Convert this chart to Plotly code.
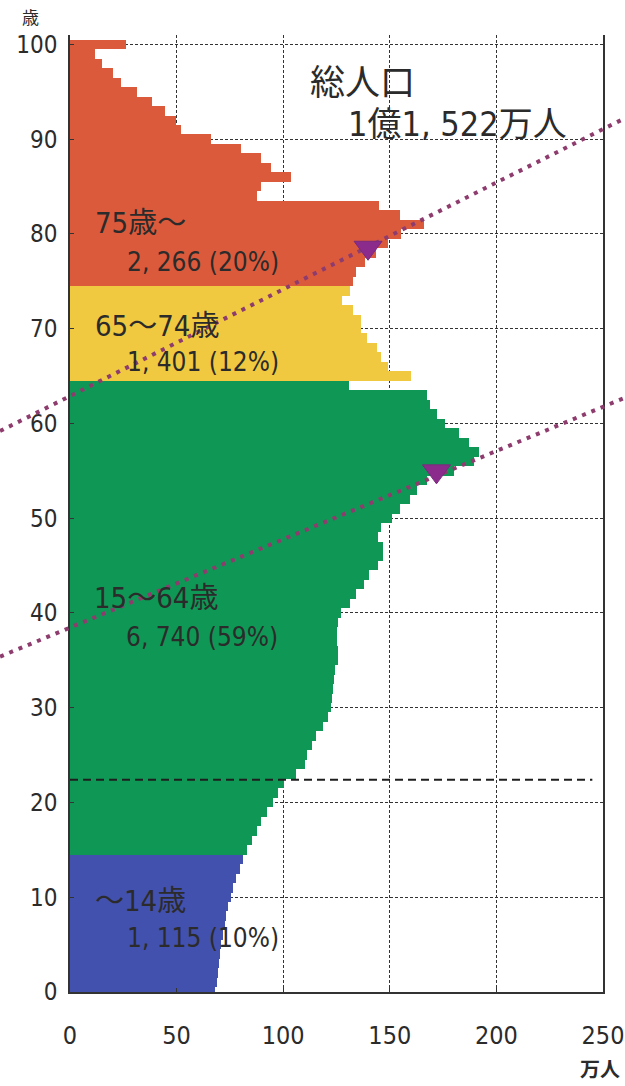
import plotly.graph_objects as go

# ---------------- data (万人, by single year of age) ----------------
ages_0_14 = list(range(0, 15))
pop_0_14 = [68.2, 69.0, 69.4, 69.9, 70.5, 71.0, 71.8, 72.5, 73.3, 74.1,
            75.4, 76.5, 78.0, 79.6, 81.2]

ages_15_64 = list(range(15, 65))
pop_15_64 = [82.9, 85.3, 87.6, 89.5, 92.2, 95.3, 97.5, 100.5, 106.0, 110.0,
             111.0, 113.7, 115.5, 118.5, 121.0, 122.3, 123.0, 123.5, 124.0, 124.5,
             125.5, 125.5, 125.0, 125.0, 125.7, 127.2, 131.1, 134.2, 138.1, 140.4,
             144.3, 146.6, 146.6, 144.3, 145.8, 151.0, 155.0, 159.7, 162.8, 167.5,
             180.0, 189.4, 191.7, 187.0, 182.3, 176.1, 172.1, 169.0, 167.4, 130.7]

ages_65_74 = list(range(65, 75))
pop_65_74 = [159.9, 149.3, 146.0, 143.8, 139.1, 136.7, 136.7, 132.8, 127.4, 131.4]

ages_75_plus = list(range(75, 101))
pop_75_plus = [132.7, 134.3, 138.2, 143.6, 149.1, 155.3, 166.2, 154.6, 145.1, 87.9,
               89.5, 103.5, 94.1, 89.7, 80.0, 66.2, 52.2, 49.5, 44.4, 38.6,
               31.2, 23.7, 20.3, 15.1, 11.5, 26.4]

group_labels = ["～14歳", "15～64歳", "65～74歳", "75歳～"]
group_totals = ["1, 115 (10%)", "6, 740 (59%)", "1, 401 (12%)", "2, 266 (20%)"]
total_title = "総人口"
total_value = "1億1, 522万人"

x_ticks = [0, 50, 100, 150, 200, 250]
y_ticks = [0, 10, 20, 30, 40, 50, 60, 70, 80, 90, 100]

# cohort shift arrows: (value, age) endpoints and arrowhead positions
arrow_lines = [((-32.8, 59.2), (260.1, 92.2)),
               ((-32.8, 35.4), (260.1, 62.7))]
arrow_heads = [(139.8, 78.6), (171.9, 55.0)]
ref_age_line = 22.4

# ---------------- styling ----------------
colors = ["#4351AE", "#0F9855", "#F0C940", "#DC5A3C"]
X_MAX, Y_MAX = 250, 101
FONT = "DejaVu Sans Condensed, Noto Sans CJK JP, sans-serif"
TXT = "#2b2b2b"

fig = go.Figure()
series = [(ages_0_14, pop_0_14), (ages_15_64, pop_15_64),
          (ages_65_74, pop_65_74), (ages_75_plus, pop_75_plus)]
for (ag, pv), col in zip(series, colors):
    fig.add_trace(go.Bar(y=ag, x=pv, orientation="h", width=1,
                         marker=dict(color=col, line=dict(width=0)),
                         showlegend=False, hoverinfo="skip"))

shapes = []
# reference dashed line
shapes.append(dict(type="line", xref="x", yref="y", x0=0, x1=245,
                   y0=ref_age_line, y1=ref_age_line, layer="above",
                   line=dict(color="#1e1e1e", width=2, dash="8px,5px")))
# purple dotted cohort lines (domain refs so they can leave the plot area)
for (xa, ya), (xb, yb) in arrow_lines:
    shapes.append(dict(type="line", xref="x domain", yref="y domain",
                       x0=xa / X_MAX, y0=ya / Y_MAX, x1=xb / X_MAX, y1=yb / Y_MAX,
                       layer="above",
                       line=dict(color="#8E3C6E", width=4, dash="4px,6px")))
# arrowheads (pixel-sized triangles anchored at data points)
for (hx, hy) in arrow_heads:
    shapes.append(dict(type="path", xref="x", yref="y",
                       xsizemode="pixel", ysizemode="pixel",
                       xanchor=hx, yanchor=hy,
                       path="M-14,6 L14,6 L0,-13 Z",
                       fillcolor="#8B2C8C", line=dict(color="#7A2A7E", width=1),
                       layer="above"))

annotations = []
label_pos = [(11, 9.6, 26, 5.7), (10.5, 41.6, 25.5, 37.5),
             (11, 70.3, 26, 66.5), (11, 81.2, 26, 77.0)]
for (lx, ly, tx, ty), lab, tot in zip(label_pos, group_labels, group_totals):
    annotations.append(dict(x=lx, y=ly, xref="x", yref="y", text=lab,
                            showarrow=False, xanchor="left", yanchor="middle",
                            font=dict(family=FONT, size=29, color=TXT)))
    annotations.append(dict(x=tx, y=ty, xref="x", yref="y", text=tot,
                            showarrow=False, xanchor="left", yanchor="middle",
                            font=dict(family=FONT, size=26, color=TXT)))
annotations.append(dict(x=111.5, y=96.3, xref="x", yref="y", text=total_title,
                        showarrow=False, xanchor="left", yanchor="middle",
                        font=dict(family="Noto Sans CJK JP", size=35, color=TXT)))
annotations.append(dict(x=129.5, y=91.6, xref="x", yref="y", text=total_value,
                        showarrow=False, xanchor="left", yanchor="middle",
                        font=dict(family=FONT, size=34, color=TXT)))
annotations.append(dict(x=-0.075, y=1.019, xref="paper", yref="paper", text="歳",
                        showarrow=False, xanchor="center", yanchor="middle",
                        font=dict(family="Noto Sans CJK JP", size=17, color=TXT)))
annotations.append(dict(x=0.994, y=-0.0795, xref="paper", yref="paper", text="<b>万人</b>",
                        showarrow=False, xanchor="center", yanchor="middle",
                        font=dict(family="Noto Sans CJK JP", size=20, color=TXT)))

fig.update_layout(
    width=625, height=1086,
    margin=dict(l=70, r=22, t=35, b=94),
    paper_bgcolor="white", plot_bgcolor="white",
    barmode="overlay", bargap=0,
    shapes=shapes, annotations=annotations,
    showlegend=False,
    xaxis=dict(range=[0, X_MAX], tickvals=x_ticks, ticktext=[str(v) for v in x_ticks],
               showgrid=True, gridcolor="#333333", gridwidth=1, griddash="3px,2px",
               zeroline=False, showline=True, linecolor="#333333", linewidth=1.5,
               ticks="inside", ticklen=4, tickcolor="#333333",
               ticklabelstandoff=20, automargin=False,
               tickfont=dict(family=FONT, size=25, color=TXT)),
    yaxis=dict(range=[0, Y_MAX], tickvals=y_ticks, ticktext=[str(v) for v in y_ticks],
               showgrid=True, gridcolor="#333333", gridwidth=1, griddash="3px,2px",
               zeroline=False, showline=True, mirror=True, linecolor="#333333",
               linewidth=1.5, ticks="inside", ticklen=4, tickcolor="#333333",
               ticklabelstandoff=6, automargin=False,
               tickfont=dict(family=FONT, size=24, color=TXT)),
)

fig.write_html("out.html", config={"displayModeBar": False},
               post_script="document.body.style.margin='0';")
